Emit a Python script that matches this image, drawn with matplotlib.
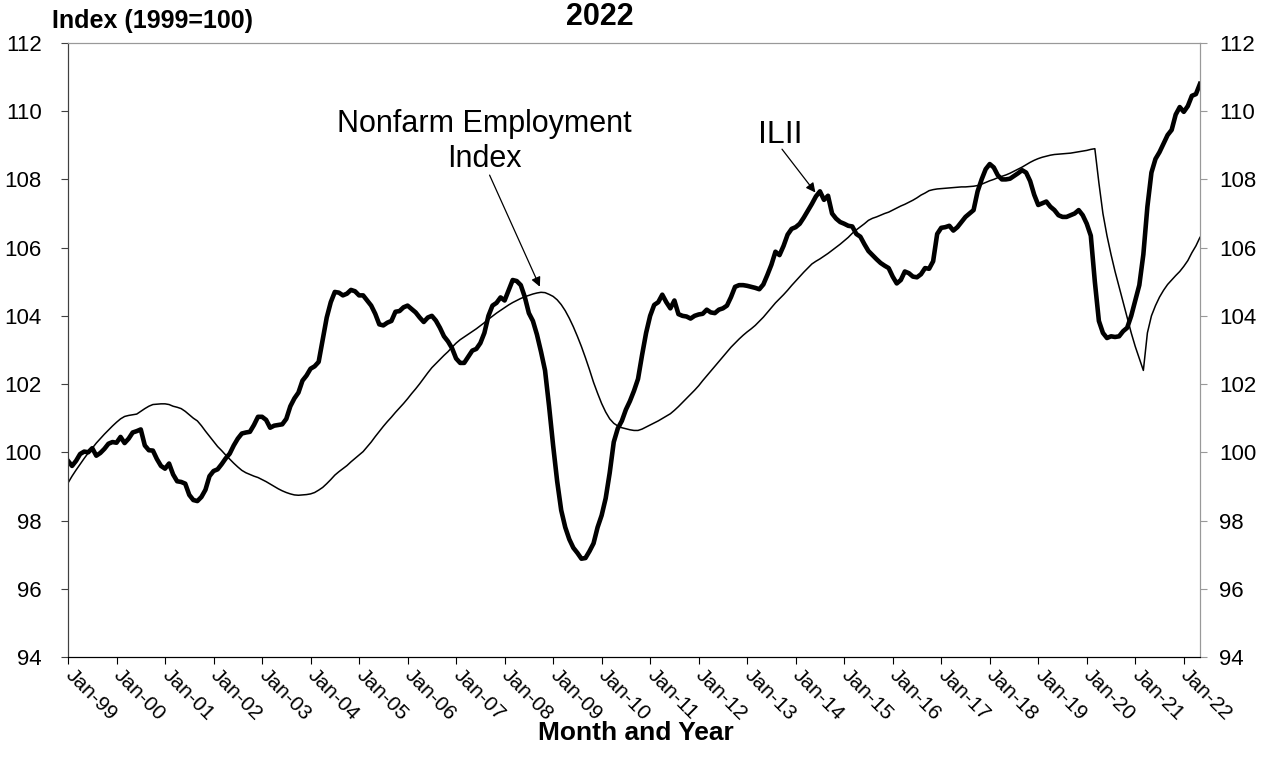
import numpy as np
import matplotlib.pyplot as plt

plt.rcParams['font.family'] = ['Liberation Sans', 'DejaVu Sans']

# ILII (thick line), monthly Jan-1999 .. May-2022, one row per year
ilii = [
    99.75, 99.6, 99.75, 99.95, 100.02, 100.0, 100.12, 99.9, 99.98, 100.1, 100.25, 100.3,
    100.28, 100.45, 100.27, 100.4, 100.58, 100.62, 100.67, 100.2, 100.06, 100.05, 99.8, 99.6,
    99.52, 99.67, 99.35, 99.15, 99.13, 99.08, 98.75, 98.6, 98.57, 98.69, 98.9, 99.3,
    99.45, 99.5, 99.65, 99.82, 99.96, 100.2, 100.4, 100.55, 100.58, 100.6, 100.8, 101.04,
    101.04, 100.95, 100.72, 100.78, 100.8, 100.82, 100.98, 101.35, 101.58, 101.75, 102.1, 102.25,
    102.45, 102.52, 102.65, 103.3, 103.95, 104.4, 104.7, 104.68, 104.6, 104.65, 104.76, 104.72,
    104.6, 104.6, 104.45, 104.3, 104.06, 103.75, 103.72, 103.8, 103.85, 104.12, 104.14, 104.25,
    104.3, 104.2, 104.1, 103.95, 103.82, 103.95, 104.0, 103.86, 103.65, 103.4, 103.25, 103.05,
    102.75, 102.62, 102.62, 102.8, 102.98, 103.03, 103.2, 103.5, 104.0, 104.3, 104.38, 104.54,
    104.45, 104.75, 105.05, 105.02, 104.9, 104.55, 104.08, 103.85, 103.45, 102.95, 102.4, 101.35,
    100.2, 99.15, 98.3, 97.8, 97.45, 97.2, 97.05, 96.88, 96.9, 97.1, 97.33, 97.8,
    98.15, 98.65, 99.4, 100.3, 100.7, 100.92, 101.25, 101.5, 101.8, 102.15, 102.85, 103.5,
    104.0, 104.32, 104.4, 104.62, 104.4, 104.22, 104.45, 104.05, 104.0, 103.98, 103.92, 104.0,
    104.04, 104.06, 104.18, 104.1, 104.08, 104.18, 104.22, 104.3, 104.55, 104.85, 104.9, 104.9,
    104.88, 104.85, 104.82, 104.78, 104.92, 105.2, 105.5, 105.88, 105.78, 106.05, 106.38, 106.55,
    106.6, 106.7, 106.88, 107.08, 107.28, 107.5, 107.65, 107.4, 107.52, 107.0, 106.85, 106.75,
    106.7, 106.64, 106.62, 106.4, 106.32, 106.1, 105.9, 105.78, 105.66, 105.55, 105.47, 105.4,
    105.15, 104.95, 105.05, 105.3, 105.25, 105.15, 105.13, 105.22, 105.4, 105.38, 105.6, 106.4,
    106.58, 106.6, 106.64, 106.5, 106.6, 106.75, 106.9, 107.0, 107.1, 107.65, 108.0, 108.3,
    108.45, 108.35, 108.12, 108.0, 108.0, 108.02, 108.1, 108.18, 108.27, 108.2, 107.95, 107.55,
    107.25, 107.3, 107.35, 107.2, 107.1, 106.95, 106.9, 106.9, 106.95, 107.0, 107.1, 106.95,
    106.7, 106.35, 105.0, 103.85, 103.5, 103.35, 103.4, 103.38, 103.4, 103.55, 103.65, 104.0,
    104.45, 104.9, 105.8, 107.2, 108.2, 108.6, 108.8, 109.05, 109.3, 109.45, 109.9, 110.12,
    109.98, 110.15, 110.45, 110.5, 110.8,
]

# Nonfarm Employment Index (thin line), same months
nonfarm = [
    99.1, 99.3, 99.48, 99.65, 99.82, 99.98, 100.12, 100.27, 100.4, 100.53, 100.65, 100.77,
    100.88, 100.98, 101.05, 101.08, 101.1, 101.12, 101.2, 101.28, 101.35, 101.4, 101.41, 101.42,
    101.42, 101.4, 101.35, 101.32, 101.28, 101.2, 101.1, 101.0, 100.92, 100.78, 100.62, 100.47,
    100.32, 100.17, 100.05, 99.92, 99.8, 99.68, 99.57, 99.47, 99.4, 99.35, 99.3, 99.26,
    99.2, 99.14, 99.07, 99.0, 98.93, 98.87, 98.82, 98.78, 98.75, 98.74, 98.75, 98.76,
    98.78, 98.82, 98.89, 98.97, 99.08, 99.2, 99.33, 99.43, 99.52, 99.61, 99.72, 99.82,
    99.92, 100.02, 100.16, 100.3, 100.46, 100.61, 100.76, 100.9, 101.03, 101.17, 101.3, 101.43,
    101.57, 101.72, 101.86, 102.01, 102.17, 102.33, 102.48, 102.6, 102.72, 102.84, 102.95, 103.08,
    103.2, 103.3, 103.38, 103.46, 103.54, 103.62, 103.71, 103.8, 103.9, 103.99, 104.08, 104.16,
    104.24, 104.32, 104.39, 104.45, 104.51, 104.56, 104.6, 104.64, 104.67, 104.69, 104.68, 104.63,
    104.57, 104.47, 104.33, 104.15, 103.93, 103.68, 103.4, 103.1, 102.77, 102.42, 102.05, 101.73,
    101.43, 101.18, 100.98, 100.85, 100.77, 100.72, 100.69, 100.66, 100.64, 100.64, 100.68, 100.74,
    100.8, 100.86, 100.92, 100.99, 101.06, 101.13, 101.23, 101.34, 101.46, 101.58, 101.7, 101.82,
    101.95, 102.1, 102.24, 102.38, 102.52, 102.66, 102.8, 102.94, 103.08, 103.2, 103.32, 103.43,
    103.53, 103.62, 103.72, 103.84, 103.96, 104.1, 104.24, 104.38, 104.5, 104.62, 104.75, 104.89,
    105.02, 105.15, 105.28, 105.4, 105.52, 105.6, 105.67, 105.75, 105.83, 105.92, 106.01, 106.1,
    106.2, 106.3, 106.42, 106.52, 106.61, 106.7, 106.8, 106.86, 106.9, 106.95, 107.0, 107.04,
    107.1, 107.16, 107.22, 107.27, 107.33, 107.39, 107.46, 107.54, 107.6, 107.67, 107.7, 107.72,
    107.73, 107.74, 107.75, 107.76, 107.77, 107.78, 107.78, 107.79, 107.8, 107.82, 107.86, 107.91,
    107.96, 108.0, 108.05, 108.09, 108.13, 108.18, 108.24, 108.3, 108.36, 108.43, 108.5, 108.56,
    108.61, 108.65, 108.68, 108.71, 108.73, 108.74, 108.75, 108.76, 108.77, 108.79, 108.81, 108.83,
    108.85, 108.88, 108.9, 107.9, 107.0, 106.35, 105.8, 105.3, 104.85, 104.4, 103.95, 103.5,
    103.1, 102.75, 102.4, 103.5, 104.0, 104.3, 104.55, 104.75, 104.92, 105.05, 105.18, 105.3,
    105.45, 105.62, 105.85, 106.05, 106.3,
]

years = ['99', '00', '01', '02', '03', '04', '05', '06', '07', '08', '09', '10',
         '11', '12', '13', '14', '15', '16', '17', '18', '19', '20', '21', '22']
yticks = [94, 96, 98, 100, 102, 104, 106, 108, 110, 112]

months = np.arange(len(ilii))

fig = plt.figure(figsize=(12.71, 7.63), dpi=100)
ax = fig.add_axes([0.0535, 0.139, 0.8906, 0.8047])

ax.plot(months, nonfarm, color='black', lw=1.1)
ax.plot(months, ilii, color='black', lw=3.3, solid_joinstyle='round')

ax.set_xlim(0, len(ilii) - 1)
ax.set_ylim(94, 112)
ax.set_yticks(yticks)
ax.set_xticks(np.arange(0, len(ilii), 12))
ax.set_xticklabels(['Jan-' + y for y in years], rotation=-45, ha='left', va='center',
                   rotation_mode='anchor', fontsize=15)
ax.tick_params(axis='x', direction='out', length=5, pad=6, color='black')
ax.tick_params(axis='y', direction='out', length=5, pad=14, labelsize=16, color='#404040')

ax2 = ax.twinx()
ax2.set_ylim(94, 112)
ax2.set_yticks(yticks)
ax2.tick_params(axis='y', direction='out', length=5, pad=9, labelsize=16, color='#999999')

for a in (ax, ax2):
    a.spines['top'].set_color('#999999')
    a.spines['right'].set_color('#999999')
    a.spines['left'].set_color('#404040')
    a.spines['bottom'].set_color('black')

ax.text(103, 109.1, 'Nonfarm Employment\nIndex', ha='center', va='center', fontsize=22,
        linespacing=1.22)
ax.annotate('', xy=(117, 104.78), xytext=(104, 108.2),
            arrowprops=dict(arrowstyle='-|>', color='black', lw=0.9, mutation_scale=14))
ax.text(176.3, 109.3, 'ILII', ha='center', va='center', fontsize=23)
ax.annotate('', xy=(185.3, 107.55), xytext=(176.2, 108.95),
            arrowprops=dict(arrowstyle='-|>', color='black', lw=0.9, mutation_scale=14))

fig.text(152 / 1271, 1 - 21 / 763, 'Index (1999=100)', ha='center', va='center',
         fontsize=18, fontweight='bold')
fig.text(600 / 1271, 1 - 25 / 763, '2022', ha='center', va='baseline',
         fontsize=22, fontweight='bold')
fig.text(636 / 1271, 1 - 733 / 763, 'Month and Year', ha='center', va='center',
         fontsize=19, fontweight='bold')

fig.savefig('out.png', dpi=100)
